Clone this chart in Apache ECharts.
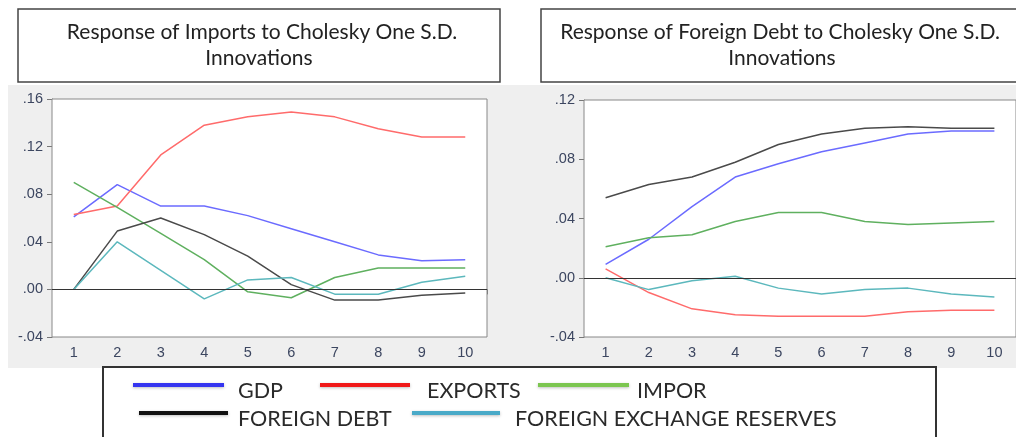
<!DOCTYPE html>
<html>
<head>
<meta charset="utf-8">
<script src="https://cdn.jsdelivr.net/npm/echarts@6/dist/echarts.min.js"></script>
<style>
html,body{margin:0;padding:0;background:#fff;}
#chart{width:1016px;height:437px;}
</style>
</head>
<body>
<div id="chart"></div>
<script>
// ---- data ----
const periods = ['1','2','3','4','5','6','7','8','9','10'];
const seriesNames = ['GDP','EXPORTS','IMPOR','FOREIGN DEBT','FOREIGN EXCHANGE RESERVES'];

// Response of Imports
const impGDP      = [0.061,0.088,0.070,0.070,0.062,0.051,0.040,0.029,0.024,0.025];
const impExports  = [0.063,0.070,0.113,0.138,0.145,0.149,0.145,0.135,0.128,0.128];
const impImpor    = [0.090,0.069,0.047,0.025,-0.002,-0.007,0.010,0.018,0.018,0.018];
const impDebt     = [0.000,0.049,0.060,0.046,0.028,0.004,-0.009,-0.009,-0.005,-0.003];
const impReserves = [0.000,0.040,0.016,-0.008,0.008,0.010,-0.004,-0.004,0.006,0.011];

// Response of Foreign Debt
const debtGDP      = [0.009,0.026,0.048,0.068,0.077,0.085,0.091,0.097,0.099,0.099];
const debtExports  = [0.006,-0.010,-0.021,-0.025,-0.026,-0.026,-0.026,-0.023,-0.022,-0.022];
const debtImpor    = [0.021,0.027,0.029,0.038,0.044,0.044,0.038,0.036,0.037,0.038];
const debtDebt     = [0.054,0.063,0.068,0.078,0.090,0.097,0.101,0.102,0.101,0.101];
const debtReserves = [0.000,-0.008,-0.002,0.001,-0.007,-0.011,-0.008,-0.007,-0.011,-0.013];

const titles = ['Response of Imports to Cholesky One S.D.', 'Response of Foreign Debt to Cholesky One S.D.', 'Innovations'];

// ---- styling ----
const lineColors = ['#6b6bff','#ff6b6b','#5fb05f','#4a4a4a','#5cb8bd'];
const legendColors = ['#3535f0','#f01818','#7cc650','#111111','#4aaac8'];
const labelColor = '#3c4660';

function fmt(v){
  if (Math.abs(v) < 1e-9) return '.00';
  const s = Math.abs(v).toFixed(2).replace(/^0/,'');
  return (v < 0 ? '-' : '') + s;
}

const chart = echarts.init(document.getElementById('chart'));

function xAxisDef(gi){
  return {
    type:'category', gridIndex:gi, data:periods, boundaryGap:true,
    axisLine:{show:true,lineStyle:{color:'#777',width:1}},
    axisTick:{show:true,inside:false,length:5,lineStyle:{color:'#777'}},
    axisLabel:{color:labelColor,fontFamily:'Liberation Sans',fontSize:14.5,margin:8},
    splitLine:{show:false}
  };
}
function yAxisDef(gi,max){
  return {
    type:'value', gridIndex:gi, min:-0.04, max:max, interval:0.04,
    axisLine:{show:true,lineStyle:{color:'#777',width:1}},
    axisTick:{show:true,inside:false,length:5,lineStyle:{color:'#777'}},
    axisLabel:{color:labelColor,fontFamily:'Liberation Sans',fontSize:14.5,margin:9,formatter:fmt},
    splitLine:{show:false}
  };
}

const leftData = [impGDP,impExports,impImpor,impDebt,impReserves];
const rightData = [debtGDP,debtExports,debtImpor,debtDebt,debtReserves];
const series = [];
[leftData,rightData].forEach((arrs,gi)=>{
  arrs.forEach((d,i)=>{
    const s = {
      name:seriesNames[i], type:'line', xAxisIndex:gi, yAxisIndex:gi, data:d,
      symbol:'none', smooth:false, silent:true,
      lineStyle:{color:lineColors[i],width:1.5}, itemStyle:{color:lineColors[i]}, z:3
    };
    if(i===0){
      s.markLine = {silent:true,symbol:'none',label:{show:false},
        lineStyle:{color:'#333',width:1.2,type:'solid'},data:[{yAxis:0}]};
    }
    series.push(s);
  });
});

const font = 'Lato';
const graphic = [
  {type:'rect', z:-10, shape:{x:8,y:85,width:1008,height:283}, style:{fill:'#efefef'}},
  {type:'rect', shape:{x:18,y:9,width:482,height:73}, style:{fill:'#fff',stroke:'#444',lineWidth:1.5}},
  {type:'rect', shape:{x:541,y:9,width:480,height:73}, style:{fill:'#fff',stroke:'#444',lineWidth:1.5}},
  {type:'text', x:262, y:32, style:{text:titles[0],font:'21px '+font,fill:'#222',textAlign:'center',textVerticalAlign:'middle'}},
  {type:'text', x:259, y:58, style:{text:titles[2],font:'21px '+font,fill:'#222',textAlign:'center',textVerticalAlign:'middle'}},
  {type:'text', x:780, y:32, style:{text:titles[1],font:'21px '+font,fill:'#222',textAlign:'center',textVerticalAlign:'middle'}},
  {type:'text', x:782, y:58, style:{text:titles[2],font:'21px '+font,fill:'#222',textAlign:'center',textVerticalAlign:'middle'}},
  {type:'rect', z:5, shape:{x:103,y:367,width:833,height:80}, style:{fill:'#fff',stroke:'#333',lineWidth:2}}
];
// legend entries: [seriesIndex, lineX1, lineX2, lineY, textX, textY]
const legendPos = [
  [0,133,224,385,238,391],
  [1,320,410,385,427,391],
  [2,538,629,385,637,391],
  [3,139,228,413,238,419],
  [4,412,500,413,515,419]
];
legendPos.forEach(p=>{
  graphic.push({type:'line', z:6, shape:{x1:p[1],y1:p[3],x2:p[2],y2:p[3]},
    style:{stroke:legendColors[p[0]],lineWidth:4,shadowBlur:3,shadowColor:'rgba(0,0,0,0.25)',shadowOffsetY:1}});
  graphic.push({type:'text', z:6, x:p[4], y:p[5], style:{text:seriesNames[p[0]],font:'21.5px '+font,fill:'#2a2a2a',textAlign:'left',textVerticalAlign:'middle'}});
});

chart.setOption({
  backgroundColor:'#fff',
  animation:false,
  grid:[
    {left:52, top:99, width:435, height:238, show:true, backgroundColor:'#fff', borderColor:'#888', borderWidth:1, z:1},
    {left:584, top:100, width:432, height:237, show:true, backgroundColor:'#fff', borderColor:'#888', borderWidth:1, z:1}
  ],
  xAxis:[xAxisDef(0), xAxisDef(1)],
  yAxis:[yAxisDef(0,0.16), yAxisDef(1,0.12)],
  series:series,
  graphic:graphic
});
</script>
</body>
</html>
